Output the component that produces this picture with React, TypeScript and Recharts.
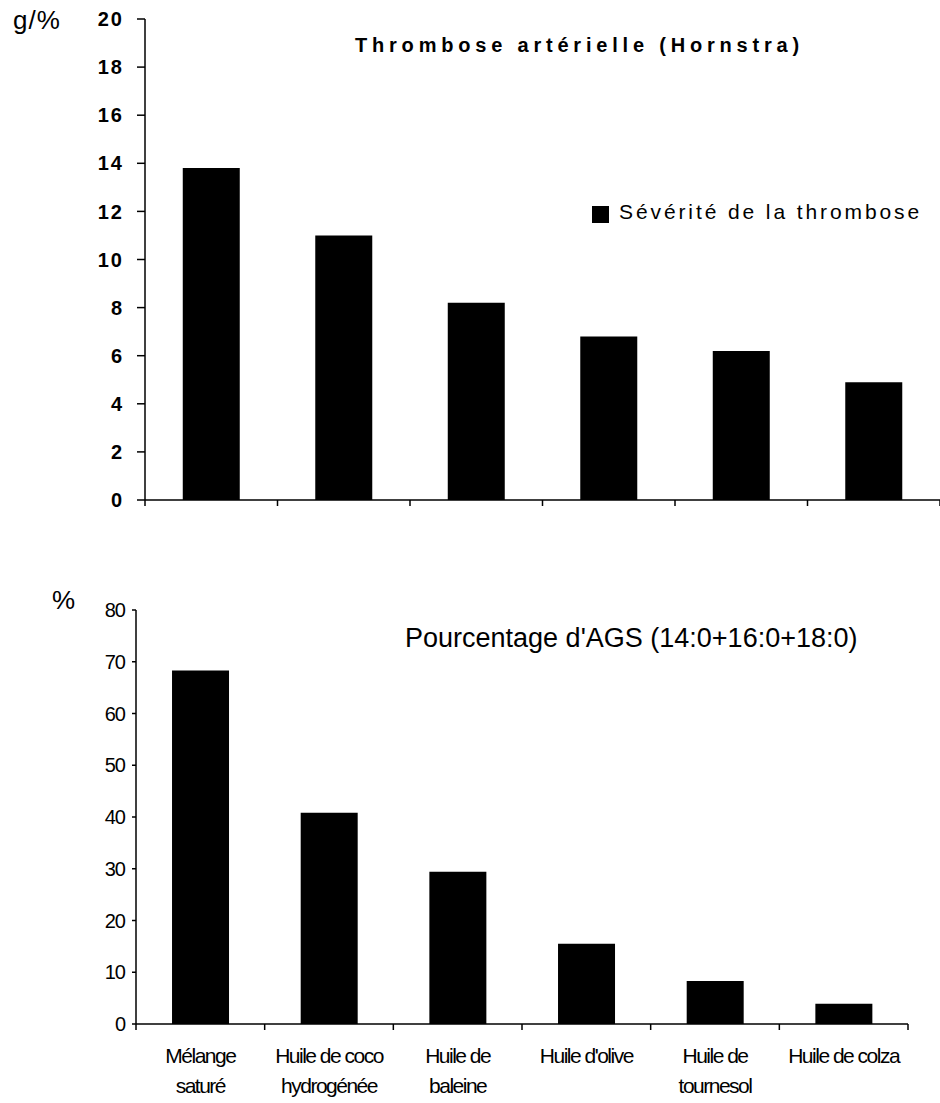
import React from "react";
import { BarChart, Bar, XAxis, YAxis, Legend } from "recharts";

const categories = [
  "Mélange\nsaturé",
  "Huile de coco\nhydrogénée",
  "Huile de\nbaleine",
  "Huile d'olive",
  "Huile de\ntournesol",
  "Huile de colza",
];
const thromboseSeverity = [13.8, 11.0, 8.2, 6.8, 6.2, 4.9];
const agsPercent = [68.3, 40.8, 29.4, 15.5, 8.3, 3.9];
const thromboseTicks = [0, 2, 4, 6, 8, 10, 12, 14, 16, 18, 20];
const agsTicks = [0, 10, 20, 30, 40, 50, 60, 70, 80];

const thromboseData = categories.map((name, i) => ({ name, severity: thromboseSeverity[i] }));
const agsData = categories.map((name, i) => ({ name, ags: agsPercent[i] }));

const font = "'Liberation Sans', Arial, sans-serif";
const axisStroke = { stroke: "#000", strokeWidth: 1.5 };

// plot widths, used to put the x tick marks between the bars
const topPlotWidth = 940 - 145;
const bottomPlotWidth = 908 - 136;

const BoundaryTick = ({ x, y, payload, index, half, showText }: any) => {
  const lines = showText ? String(payload.value).split("\n") : [];
  const last = index === categories.length - 1;
  return (
    <g>
      <line x1={x - half} x2={x - half} y1={y} y2={y + 6} stroke="#000" strokeWidth={1.5} />
      {last && <line x1={x + half} x2={x + half} y1={y} y2={y + 6} stroke="#000" strokeWidth={1.5} />}
      {lines.length > 0 && (
        <text x={x} y={y} textAnchor="middle" fill="#000" fontSize={21} fontFamily={font} letterSpacing={-1.5}>
          {lines.map((line, i) => (
            <tspan key={i} x={x} dy={i === 0 ? 39 : 30}>
              {line}
            </tspan>
          ))}
        </text>
      )}
    </g>
  );
};

export default function App() {
  return (
    <div style={{ position: "absolute", left: 0, top: 0, width: 940, height: 1103, background: "#fff", fontFamily: font }}>
      {/* thrombose chart */}
      <div style={{ position: "absolute", left: 0, top: 0 }}>
        <BarChart
          width={940}
          height={520}
          data={thromboseData}
          margin={{ top: 19, right: 0, bottom: 0, left: 0 }}
          barCategoryGap="28.5%"
        >
          <XAxis
            dataKey="name"
            height={20}
            interval={0}
            tickSize={0}
            tickMargin={0}
            tickLine={false}
            axisLine={axisStroke}
            tick={<BoundaryTick half={topPlotWidth / 12} showText={false} />}
          />
          <YAxis
            width={145}
            domain={[0, 20]}
            ticks={thromboseTicks}
            interval={0}
            tickSize={8}
            tickMargin={13}
            axisLine={axisStroke}
            tickLine={axisStroke}
            tick={{ fill: "#000", fontSize: 20, fontWeight: "bold", fontFamily: font, letterSpacing: 2 }}
          />
          <Legend
            layout="horizontal"
            verticalAlign="middle"
            align="center"
            iconType="square"
            iconSize={17}
            wrapperStyle={{ left: 592, top: 200, width: "auto" }}
            formatter={(value: string) => (
              <span style={{ color: "#000", fontSize: 21, letterSpacing: 2.9, fontFamily: font, marginLeft: 6 }}>
                {value}
              </span>
            )}
          />
          <Bar dataKey="severity" name="Sévérité de la thrombose" fill="#000" isAnimationActive={false} />
        </BarChart>
      </div>

      {/* AGS chart */}
      <div style={{ position: "absolute", left: 0, top: 560 }}>
        <BarChart
          width={940}
          height={543}
          data={agsData}
          margin={{ top: 50, right: 32, bottom: 0, left: 0 }}
          barCategoryGap="28%"
        >
          <XAxis
            dataKey="name"
            height={79}
            interval={0}
            tickSize={0}
            tickMargin={0}
            tickLine={false}
            axisLine={axisStroke}
            tick={<BoundaryTick half={bottomPlotWidth / 12} showText />}
          />
          <YAxis
            width={136}
            domain={[0, 80]}
            ticks={agsTicks}
            interval={0}
            tickSize={4}
            tickMargin={7}
            axisLine={axisStroke}
            tickLine={axisStroke}
            tick={{ fill: "#000", fontSize: 20, fontFamily: font, letterSpacing: -1 }}
          />
          <Bar dataKey="ags" fill="#000" isAnimationActive={false} />
        </BarChart>
      </div>

      {/* titles and unit labels */}
      <svg width={940} height={1103} style={{ position: "absolute", left: 0, top: 0, pointerEvents: "none" }}>
        <text x={13} y={29} fontSize={26} fontFamily={font} fill="#000" letterSpacing={1}>
          g/%
        </text>
        <text x={355} y={52} fontSize={20} fontWeight="bold" fontFamily={font} fill="#000" letterSpacing={4.8}>
          Thrombose artérielle (Hornstra)
        </text>
        <text x={52} y={609} fontSize={26} fontFamily={font} fill="#000">
          %
        </text>
        <text x={405} y={647} fontSize={27} fontFamily={font} fill="#000">
          Pourcentage d'AGS (14:0+16:0+18:0)
        </text>
      </svg>
    </div>
  );
}
